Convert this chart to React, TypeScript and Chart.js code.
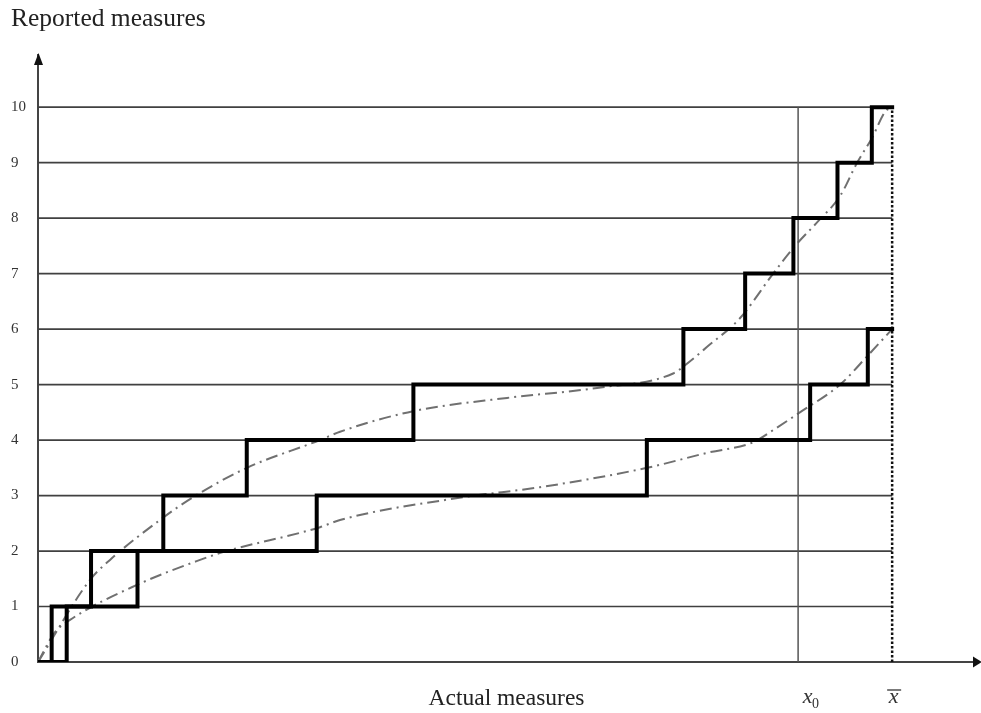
import React, { useEffect, useRef } from "react";
import { Chart, registerables } from "chart.js";

Chart.register(...registerables);

// ---- data ----
const yTickValues = [0, 1, 2, 3, 4, 5, 6, 7, 8, 9, 10];
const upperRiseX = [1.6, 6.21, 14.67, 24.44, 43.95, 75.56, 82.79, 88.44, 93.6, 97.62];
const lowerRiseX = [3.36, 11.65, 32.63, 71.28, 90.4, 97.15];
const stepEndX = 100;
const x0Value = 88.99;
const xBarValue = 100;
const upperCurveX = [0, 6.09, 8.43, 14.64, 18.15, 24.47, 33.02, 35.36, 43.91, 54.92, 65.46, 74.36, 75.76, 78.34, 82.2, 86.07, 88.64, 91.37, 93.91, 95.9, 97.66, 99.18, 100];
const upperCurveY = [0, 1.48, 1.84, 2.6, 2.97, 3.5, 4.0, 4.15, 4.52, 4.76, 4.94, 5.2, 5.35, 5.68, 6.2, 7.0, 7.5, 7.95, 8.4, 9.0, 9.45, 9.92, 10];
const lowerCurveX = [0, 1.99, 3.75, 11.59, 18.97, 21.66, 33.02, 35.36, 49.77, 58.78, 71.31, 78.34, 83.72, 86.07, 89.11, 93.91, 97.19, 100];
const lowerCurveY = [0, 0.54, 0.76, 1.39, 1.84, 1.98, 2.43, 2.56, 2.97, 3.15, 3.5, 3.77, 3.96, 4.18, 4.49, 5.0, 5.53, 6.0];
const xMax = 109.7;
const yMax = 10.94;

const FONT = "'Liberation Serif', 'Times New Roman', serif";

function stepPoints(rises: number[]) {
  const pts = [{ x: 0, y: 0 }];
  rises.forEach((x, i) => pts.push({ x, y: i + 1 }));
  pts.push({ x: stepEndX, y: rises.length });
  return pts;
}

function curvePoints(xs: number[], ys: number[]) {
  return xs.map((x, i) => ({ x, y: ys[i] }));
}

const decorPlugin = {
  id: "decor",
  afterDraw(chart: any) {
    const { ctx, chartArea } = chart;
    const { left, right, top, bottom } = chartArea;
    const xs = chart.scales.x;
    ctx.save();
    ctx.fillStyle = "#111";
    // y arrow
    ctx.beginPath();
    ctx.moveTo(left + 0.5, top - 2);
    ctx.lineTo(left + 5, top + 10);
    ctx.lineTo(left - 4, top + 10);
    ctx.closePath();
    ctx.fill();
    // x arrow
    ctx.beginPath();
    ctx.moveTo(right + 7, bottom);
    ctx.lineTo(right - 2, bottom - 5.5);
    ctx.lineTo(right - 2, bottom + 5.5);
    ctx.closePath();
    ctx.fill();

    // x0 label
    const px0 = xs.getPixelForValue(x0Value);
    ctx.fillStyle = "#333";
    ctx.textBaseline = "alphabetic";
    ctx.textAlign = "center";
    ctx.font = `italic 22px ${FONT}`;
    ctx.fillText("x", px0 + 9.5, 703);
    ctx.font = `14px ${FONT}`;
    ctx.textAlign = "left";
    ctx.fillText("0", px0 + 14, 708);

    // x bar label
    const pxb = xs.getPixelForValue(xBarValue);
    ctx.textAlign = "center";
    ctx.font = `italic 22px ${FONT}`;
    ctx.fillText("x", pxb + 1.5, 703);
    ctx.strokeStyle = "#333";
    ctx.lineWidth = 1.3;
    ctx.beginPath();
    ctx.moveTo(pxb - 5, 690);
    ctx.lineTo(pxb + 9, 690);
    ctx.stroke();
    ctx.restore();
  },
};

export default function App() {
  const ref = useRef<HTMLCanvasElement | null>(null);

  useEffect(() => {
    document.body.style.margin = "0";
    const canvas = ref.current;
    if (!canvas) return;

    const stepStyle = {
      borderColor: "#000",
      borderWidth: 4,
      stepped: "before" as const,
      borderJoinStyle: "miter" as const,
      borderCapStyle: "square" as const,
      pointRadius: 0,
      fill: false,
    };
    const curveStyle = {
      borderColor: "#707070",
      borderWidth: 2,
      borderDash: [12, 5, 2, 5],
      cubicInterpolationMode: "monotone" as const,
      pointRadius: 0,
      fill: false,
    };

    const gridDatasets = yTickValues.slice(1).map((v) => ({
      label: `grid ${v}`,
      data: [
        { x: 0, y: v },
        { x: xBarValue, y: v },
      ],
      borderColor: "#404040",
      borderWidth: 1.7,
      pointRadius: 0,
      fill: false,
    }));

    const chart = new Chart(canvas, {
      type: "line",
      data: {
        datasets: [
          { label: "Upper steps", data: stepPoints(upperRiseX), ...stepStyle },
          { label: "Lower steps", data: stepPoints(lowerRiseX), ...stepStyle },
          {
            label: "x bar",
            data: [
              { x: xBarValue, y: 0 },
              { x: xBarValue, y: 10 },
            ],
            borderColor: "#111",
            borderWidth: 2.5,
            borderDash: [2.5, 2],
            pointRadius: 0,
          },
          {
            label: "x0",
            data: [
              { x: x0Value, y: 0 },
              { x: x0Value, y: 10 },
            ],
            borderColor: "#555",
            borderWidth: 1.5,
            pointRadius: 0,
          },
          { label: "Upper curve", data: curvePoints(upperCurveX, upperCurveY), ...curveStyle },
          { label: "Lower curve", data: curvePoints(lowerCurveX, lowerCurveY), ...curveStyle },
          ...gridDatasets,
        ],
      },
      options: {
        responsive: false,
        animation: false,
        events: [],
        layout: { padding: { left: 11, right: 6, top: 0, bottom: 0 } },
        plugins: {
          legend: { display: false },
          tooltip: { enabled: false },
          title: {
            display: true,
            text: "Reported measures",
            align: "start",
            color: "#222",
            font: { family: FONT, size: 25.5, weight: "normal" },
            padding: { top: 3.5, bottom: 20.9 },
          },
        },
        scales: {
          x: {
            type: "linear",
            min: 0,
            max: xMax,
            grid: { display: false, drawTicks: false },
            border: { display: true, color: "#444", width: 2 },
            ticks: { display: false },
            title: {
              display: true,
              text: "Actual measures",
              color: "#222",
              font: { family: FONT, size: 23.5 },
              padding: { top: 22.8, bottom: 0 },
            },
          },
          y: {
            type: "linear",
            min: 0,
            max: yMax,
            afterBuildTicks: (s: any) => {
              s.ticks = yTickValues.map((v) => ({ value: v }));
            },
            grid: { display: false, drawTicks: false },
            border: { display: true, color: "#444", width: 2 },
            ticks: {
              padding: 6,
              crossAlign: "far",
              color: "#333",
              font: { family: FONT, size: 15 },
            },
          },
        },
      },
      plugins: [decorPlugin],
    });

    return () => chart.destroy();
  }, []);

  return (
    <div style={{ width: 981, height: 713 }}>
      <canvas ref={ref} width={981} height={713} style={{ display: "block" }} />
    </div>
  );
}
